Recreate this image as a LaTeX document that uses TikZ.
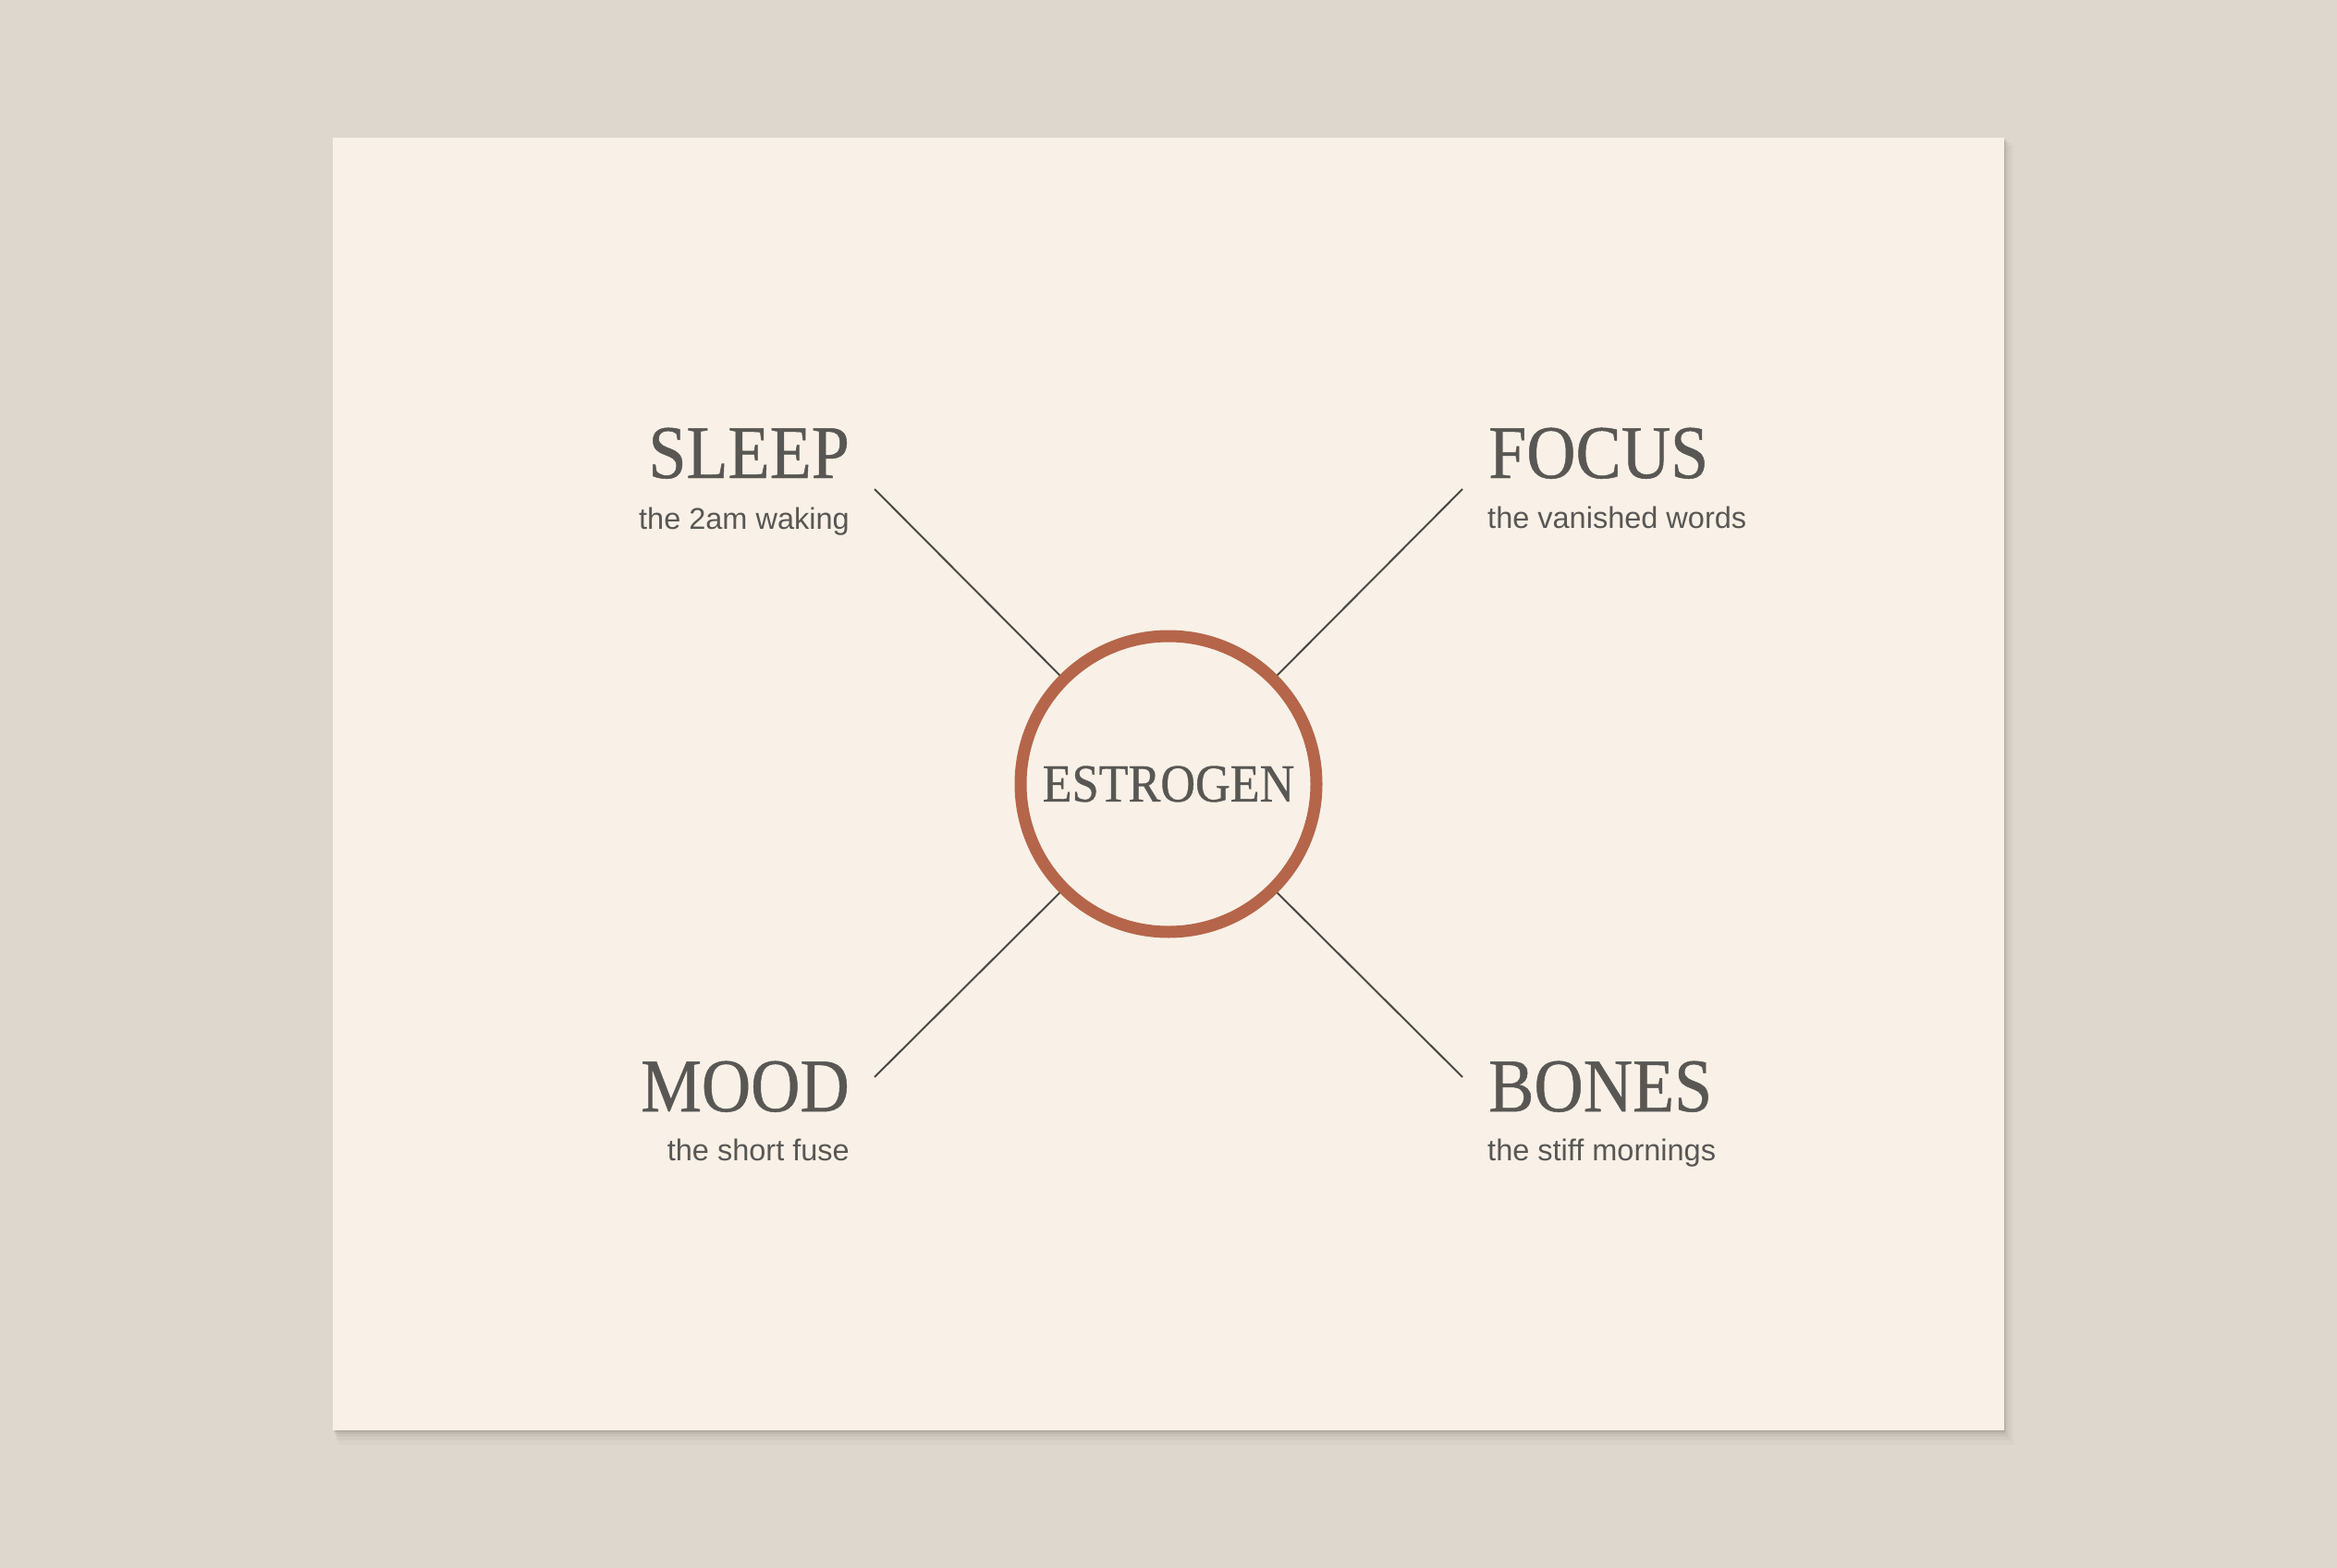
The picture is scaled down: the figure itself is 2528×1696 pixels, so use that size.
\documentclass[tikz,border=0pt]{standalone}
\usepackage{fontspec}
\setmainfont{Liberation Serif}
\newfontfamily\headfont[FakeStretch=0.9, FakeBold=0.6]{Liberation Serif}
\newfontfamily\subfont{Liberation Sans}
\definecolor{wall}{HTML}{DED7CD}
\definecolor{paper}{HTML}{F9F1E7}
\definecolor{ink}{HTML}{595754}
\definecolor{rust}{HTML}{B5654A}
\definecolor{spokegray}{HTML}{4B4946}
\newcommand\cx{1264}
\newcommand\cy{848}
\tikzset{
  head/.style={text=ink, font=\headfont\fontsize{82}{82}\selectfont, inner sep=0pt},
  sub/.style={text=ink, font=\subfont\fontsize{32.5}{32.5}\selectfont, inner sep=0pt},
  spoke/.style={draw=spokegray, line width=2pt},
}

\begin{document}
\begin{tikzpicture}[x=1pt, y=-1pt]
		\fill[wall] (0,0) rectangle (2528,1696);
		\useasboundingbox (0,0) rectangle (2528,1696);

		% card and its soft shadow
		\foreach \s/\o in {16/0.02, 11/0.03, 7/0.04, 4/0.05, 2/0.06}
			\fill[black, opacity=\o] (360+\s*0.4, 149+\s*0.5) rectangle (2168+\s*0.6, 1547+\s);
		\fill[paper] (360,149) rectangle (2168,1547);

		\node[circle, draw=rust, line width=13pt, minimum size=320pt, inner sep=0pt,
		      text=ink, font=\headfont\fontsize{58}{58}\selectfont] (estrogen) at (\cx,\cy) {ESTROGEN};

		\node[head, anchor=base east] (sleep) at (919,517) {SLEEP};
		\node[sub, anchor=base east] (sleepsub) at (919,572) {the 2am waking};

		\node[head, anchor=base west] (focus) at (1610,517) {FOCUS};
		\node[sub, anchor=base west] (focussub) at (1609,571) {the vanished words};

		\node[head, anchor=base east] (mood) at (919,1202) {MOOD};
		\node[sub, anchor=base east] (moodsub) at (919,1255) {the short fuse};

		\node[head, anchor=base west] (bones) at (1610,1202) {BONES};
		\node[sub, anchor=base west] (bonessub) at (1609,1255) {the stiff mornings};

		\coordinate (sleepend) at (\cx-318,\cy-319);
		\coordinate (focusend) at (\cx+318,\cy-319);
		\coordinate (moodend)  at (\cx-318,\cy+317);
		\coordinate (bonesend) at (\cx+318,\cy+317);

		\draw[spoke] (sleepend) -- (estrogen.135);
		\draw[spoke] (focusend) -- (estrogen.45);
		\draw[spoke] (moodend)  -- (estrogen.225);
		\draw[spoke] (bonesend) -- (estrogen.315);
	\end{tikzpicture}
\end{document}
